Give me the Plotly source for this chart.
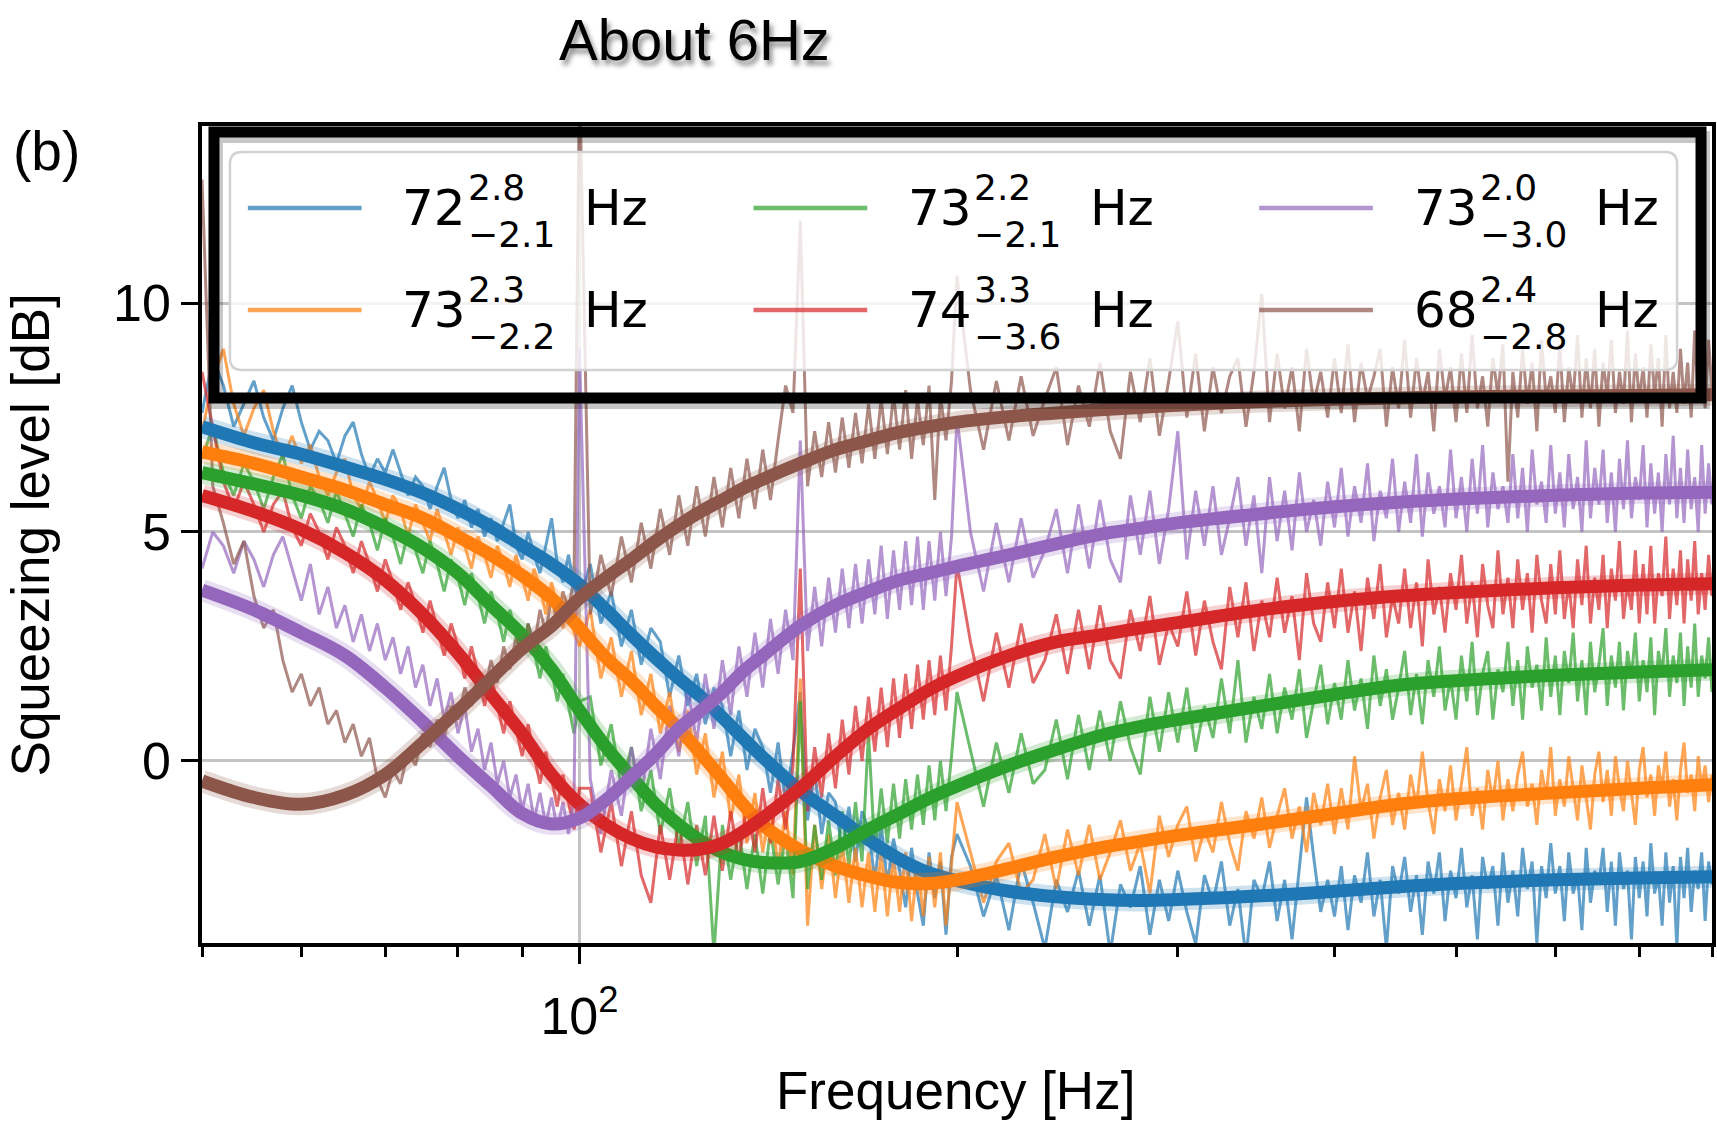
import math
import plotly.graph_objects as go

# ---------------- data ----------------
FREQ_FIT = [50, 55, 60, 65, 70, 75, 80, 85, 90, 95, 100, 105, 110, 115, 120, 125, 130, 135, 140,
            150, 160, 170, 180, 190, 200, 220, 240, 260, 280, 300, 350, 400, 450, 500, 600, 700, 800]

BLUE_FIT = [7.3, 6.95, 6.7, 6.42, 6.15, 5.85, 5.5, 5.12, 4.7, 4.3, 3.85, 3.3, 2.75, 2.25, 1.8, 1.4, 0.95, 0.5, 0.08,
            -0.65, -1.2, -1.72, -2.15, -2.45, -2.62, -2.85, -2.97, -3.03, -3.05, -3.03, -2.95, -2.85, -2.75, -2.68, -2.6, -2.56, -2.53]
ORANGE_FIT = [6.75, 6.5, 6.2, 5.92, 5.6, 5.3, 4.9, 4.5, 4.05, 3.55, 2.9, 2.25, 1.75, 1.2, 0.7, 0.15, -0.4, -0.95, -1.4,
              -1.95, -2.3, -2.52, -2.66, -2.68, -2.6, -2.35, -2.1, -1.9, -1.76, -1.63, -1.38, -1.15, -0.95, -0.83, -0.7, -0.6, -0.52]
GREEN_FIT = [6.3, 6.05, 5.8, 5.5, 5.1, 4.65, 4.1, 3.4, 2.75, 2.0, 1.1, 0.3, -0.35, -0.95, -1.4, -1.75, -2.0, -2.15, -2.22,
             -2.2, -1.9, -1.5, -1.15, -0.82, -0.55, -0.1, 0.25, 0.55, 0.75, 0.9, 1.2, 1.45, 1.65, 1.75, 1.87, 1.94, 1.99]
RED_FIT = [5.8, 5.45, 5.05, 4.55, 3.95, 3.2, 2.35, 1.45, 0.6, -0.3, -0.95, -1.4, -1.7, -1.88, -1.95, -1.93, -1.8, -1.55, -1.25,
           -0.6, 0.1, 0.7, 1.15, 1.55, 1.85, 2.3, 2.6, 2.75, 2.9, 3.02, 3.3, 3.48, 3.6, 3.68, 3.78, 3.84, 3.87]
PURPLE_FIT = [3.73, 3.3, 2.8, 2.3, 1.6, 0.85, 0.1, -0.55, -1.15, -1.38, -1.25, -0.85, -0.35, 0.15, 0.7, 1.1, 1.5, 1.95, 2.3,
              2.95, 3.4, 3.7, 3.95, 4.1, 4.25, 4.5, 4.74, 4.95, 5.08, 5.2, 5.4, 5.55, 5.65, 5.72, 5.8, 5.85, 5.87]
BROWN_FIT = [-0.44, -0.8, -0.95, -0.75, -0.3, 0.4, 1.1, 1.8, 2.45, 2.95, 3.55, 4.0, 4.4, 4.8, 5.15, 5.45, 5.7, 5.95, 6.15,
             6.5, 6.8, 7.0, 7.18, 7.3, 7.4, 7.52, 7.6, 7.67, 7.72, 7.77, 7.85, 7.9, 7.93, 7.95, 7.97, 7.98, 8.0]

FREQ_DATA = [50, 51, 52, 53, 54, 55, 56, 57, 58, 59, 60, 61, 62, 63, 64, 65, 66, 67, 68, 69,
             70, 71, 72, 73, 74, 75, 76, 77, 78, 79, 80, 81, 82, 83, 84, 85, 86, 87, 88, 89,
             90, 91, 92, 93, 94, 95, 96, 97, 98, 99, 100,
             102, 104, 106, 108, 110, 112, 114, 116, 118, 120, 122, 124, 126, 128, 130, 132, 134, 136, 138, 140,
             142, 144, 146, 148, 150, 152, 154, 156, 158, 160, 162, 164, 166, 168, 170, 172, 174, 176, 178, 180,
             182, 184, 186, 188, 190, 192, 194, 196, 198, 200,
             205, 210, 215, 220, 225, 230, 235, 240, 245, 250, 255, 260, 265, 270, 275, 280, 285, 290, 295, 300,
             305, 310, 315, 320, 325, 330, 335, 340, 345, 350, 355, 360, 365, 370, 375, 380, 385, 390, 395, 400,
             405, 410, 415, 420, 425, 430, 435, 440, 445, 450, 455, 460, 465, 470, 475, 480, 485, 490, 495, 500,
             505, 510, 515, 520, 525, 530, 535, 540, 545, 550, 555, 560, 565, 570, 575, 580, 585, 590, 595, 600,
             605, 610, 615, 620, 625, 630, 635, 640, 645, 650, 655, 660, 665, 670, 675, 680, 685, 690, 695, 700,
             705, 710, 715, 720, 725, 730, 735, 740, 745, 750, 755, 760, 765, 770, 775, 780, 785, 790, 795, 800]

BLUE_DATA = [7.6, 8.8, 8.2, 7.3, 7.8, 8.3, 7.5, 7.0, 7.7, 8.2, 7.4, 6.8, 7.2, 7.0, 6.5, 7.1, 7.4, 6.7, 6.2, 6.6,
             6.3, 6.8, 6.3, 5.8, 6.2, 6.0, 5.5, 6.0, 6.4, 5.7, 5.3, 5.7, 5.1, 5.5, 4.9, 5.3, 4.8, 5.2, 5.6, 4.7,
             4.4, 5.0, 4.5, 4.1, 4.7, 5.3, 4.3, 3.9, 4.5, 3.8, 3.5,
             4.3, 3.0, 3.7, 2.5, 3.3, 2.1, 2.9, 2.6, 1.4, 2.3, 1.2, 1.9, 0.8, 1.6, 1.2, 0.1, 1.1, -0.2, 0.7, 0.3,
             -0.7, 0.4, -0.9, 0.2, 1.5, -1.3, -0.2, -1.6, -0.7, -0.9, -2.0, -1.0, -2.2, -1.1, -1.5, -2.6, -1.4, -2.7, -1.7, -2.4,
             -3.2, -1.9, -2.9, -3.6, -2.0, -3.0, -2.2, -3.8, -2.1, -1.6,
             -2.3, -3.4, -2.5, -3.7, -2.2, -3.1, -4.1, -2.6, -3.3, -2.4, -3.6, -2.5, -4.2, -2.7, -3.2, -2.3, -3.8, -2.6, -3.5, -2.4,
             -3.3, -4.0, -2.5, -3.1, -2.2, -3.6, -2.8, -4.3, -2.6, -3.0, -2.2, -3.5, -2.6, -3.9, -2.4, -0.8, -2.1, -3.3, -2.6, -3.4,
             -2.3, -3.7, -2.5, -3.1, -2.0, -3.4, -2.6, -4.1, -2.3, -2.9, -2.1, -3.3, -2.5, -3.8, -2.2, -2.9, -2.0, -3.5, -2.4, -3.0,
             -1.9, -3.2, -2.5, -3.9, -2.1, -2.8, -2.3, -3.6, -2.0, -3.1, -2.4, -3.4, -1.9, -2.8, -2.2, -4.0, -2.3, -3.0, -1.8, -2.9,
             -2.3, -3.5, -2.0, -2.9, -2.5, -3.7, -1.9, -3.1, -2.4, -2.7, -1.9, -3.3, -2.2, -3.6, -2.0, -2.8, -2.4, -3.9, -2.1, -3.0,
             -2.2, -3.4, -1.8, -2.9, -2.5, -3.6, -2.0, -3.1, -2.3, -4.1, -2.1, -3.0, -1.9, -3.3, -2.4, -2.8, -2.0, -3.5, -2.2, -2.7]

ORANGE_DATA = [7.2, 8.3, 9.0, 7.8, 7.1, 7.7, 8.1, 7.2, 6.6, 7.1, 6.5, 6.9, 6.2, 5.8, 6.3, 6.6, 5.8, 5.5, 6.1, 5.7,
               5.2, 5.8, 5.5, 4.9, 5.6, 5.2, 4.8, 5.5, 5.0, 4.5, 5.1, 4.7, 4.2, 4.9, 4.5, 4.0, 4.7, 4.3, 3.8, 4.5,
               4.0, 3.5, 4.2, 3.8, 3.2, 3.9, 3.4, 2.9, 3.5, 2.8, 2.5,
               3.3, 1.8, 2.7, 1.4, 2.4, 1.0, 1.9, 0.6, 1.5, 0.2, 1.1, -0.3, 0.6, -0.8, 0.2, -1.3, -0.3, -1.8, -0.7, -2.0,
               -1.0, -2.3, -1.1, -2.5, 1.8, -3.6, -1.4, -2.8, -1.6, -3.0, -1.8, -3.1, -1.9, -3.2, -2.0, -3.3, -2.0, -3.4, -2.1, -3.3,
               -2.0, -3.5, -2.2, -3.4, -2.1, -3.2, -2.0, -3.6, -2.2, -0.9,
               -2.0, -3.1, -2.2, -1.8, -2.9, -2.6, -1.6, -2.8, -1.5, -2.5, -1.4, -2.6, -2.0, -1.3, -2.4, -1.8, -2.9, -1.2, -2.1, -1.4,
               -1.0, -2.2, -1.5, -2.0, -0.9, -1.8, -2.4, -1.1, -1.7, -0.8, -1.9, -1.2, -0.6, -1.7, -1.0, -2.0, -0.7, -1.4, -0.5, -1.6,
               -0.6, -1.5, 0.1, -1.1, -0.5, -1.7, -0.8, -0.2, -1.4, -0.7, -1.5, -0.3, -1.0, 0.2, -0.9, -1.6, -0.4, -1.1, -0.1, -1.3,
               -0.5, 0.3, -1.2, -0.6, -1.5, -0.2, -0.9, 0.0, -1.3, -0.4, -1.1, -0.3, 0.2, -1.0, -0.5, -1.4, -0.2, -0.8, 0.3, -1.2,
               -0.4, -1.0, 0.1, -0.6, -1.3, -0.1, -0.8, -1.5, -0.3, 0.2, -0.9, -0.2, -1.2, 0.1, -0.6, -1.1, 0.0, -0.7, -1.4, -0.2,
               0.3, -0.8, -0.3, -1.2, -0.1, -0.6, 0.2, -1.0, -0.4, -1.3, -0.2, 0.4, -0.7, -0.3, -1.1, 0.1, -0.6, -0.1, -0.9, -0.3]

GREEN_DATA = [6.6, 7.3, 6.3, 5.8, 6.5, 6.1, 5.5, 6.2, 6.7, 5.8, 5.3, 6.0, 5.7, 5.2, 5.9, 5.4, 4.9, 5.6, 5.2, 4.6,
              5.3, 4.9, 4.3, 5.0, 4.6, 4.1, 4.8, 4.3, 3.7, 4.4, 4.0, 3.4, 4.1, 3.6, 3.0, 3.7, 3.2, 2.6, 3.3, 2.8,
              2.3, 3.0, 2.4, 1.8, 2.5, 2.0, 1.3, 1.9, 1.2, 0.6, 1.3,
              1.4, -0.1, 0.8, -0.6, 0.3, -1.1, -0.2, -1.6, -0.6, -1.9, -0.9, -2.3, -1.2, -4.2, -1.4, -2.6, -1.5, -2.8, -1.6, -2.9,
              -1.5, -2.7, -1.6, -3.0, 1.3, -2.8, -1.4, -2.6, -1.3, -2.5, -1.1, -2.3, -0.9, -2.2, 0.6, -2.0, -0.6, -1.8, -0.5, -1.7,
              -0.4, -1.5, -0.3, -1.4, -0.1, -1.3, 0.0, -1.1, 0.1, 1.5,
              0.2, -1.0, 0.4, -0.7, 0.6, -0.5, -0.2, 0.9, -0.4, 1.0, -0.2, 1.1, 0.0, 1.3, 0.3, -0.3, 1.4, 0.2, 1.5, 0.4,
              1.6, 0.2, 1.2, 0.5, 1.8, 0.6, 2.2, 0.4, 1.4, 0.7, 1.9, 0.6, 1.6, 0.9, 2.0, 0.5, 1.3, 2.1, 0.8, 1.7,
              0.9, 2.2, 1.1, 1.8, 0.7, 2.3, 1.2, 2.0, 0.9, 1.6, 2.4, 1.0, 1.9, 0.8, 2.2, 1.4, 2.5, 1.1, 1.8, 0.9,
              2.3, 1.3, 2.6, 1.0, 1.9, 2.4, 0.9, 2.0, 1.5, 2.6, 1.2, 2.2, 0.9, 2.5, 1.6, 2.1, 1.1, 2.7, 1.4, 2.3,
              1.0, 2.4, 1.7, 2.8, 1.3, 2.2, 1.0, 2.6, 1.5, 2.1, 2.9, 1.2, 2.3, 1.6, 2.6, 1.1, 2.4, 1.8, 2.8, 1.3,
              2.2, 1.5, 2.7, 1.0, 2.4, 1.9, 2.9, 1.4, 2.3, 1.7, 2.8, 1.2, 2.5, 1.6, 3.0, 1.4, 2.3, 1.8, 2.7, 1.5]

RED_DATA = [8.5, 7.3, 6.1, 5.5, 6.1, 5.6, 5.0, 5.6, 5.9, 5.1, 4.7, 5.4, 5.0, 4.4, 5.1, 4.7, 4.1, 4.8, 4.3, 3.7,
            4.4, 3.9, 3.3, 3.9, 3.4, 2.8, 3.5, 2.9, 2.3, 3.0, 2.5, 1.8, 2.5, 1.9, 1.2, 1.9, 1.2, 0.6, 1.3, 0.7,
            0.1, 0.8, 0.1, -0.5, 0.2, -0.4, -1.0, -0.3, -0.9, -1.5, -0.6,
            -0.6, -2.0, -0.9, -2.3, -1.1, -2.5, -3.1, -1.4, -2.6, -1.3, -2.7, -1.4, -2.5, -1.2, -2.4, -1.1, -2.2, -0.9, -2.0, -0.6,
            -1.8, -0.4, -1.5, -0.1, 4.2, -1.1, 0.3, -0.8, 0.6, -0.6, 0.9, -0.3, 1.2, 0.0, 1.4, 0.2, 1.6, 0.3, 1.8, 0.5,
            1.9, 0.7, 2.1, 0.9, 2.2, 1.0, 2.3, 1.1, 2.5, 4.3,
            2.6, 1.3, 2.8, 1.6, 3.0, 1.7, 2.2, 3.2, 1.9, 3.3, 2.0, 3.4, 2.2, 1.8, 3.3, 2.4, 3.6, 2.1, 3.0, 2.5,
            3.7, 2.3, 3.5, 2.6, 2.0, 3.8, 2.7, 3.9, 2.4, 3.5, 2.7, 4.0, 2.8, 3.6, 2.2, 4.1, 3.0, 2.6, 3.9, 2.9,
            4.2, 2.8, 3.7, 2.4, 4.0, 3.1, 4.3, 2.7, 3.6, 3.0, 4.2, 2.9, 3.9, 2.5, 4.4, 3.2, 3.8, 2.8, 4.1, 3.3,
            4.5, 3.0, 3.9, 2.7, 4.3, 3.4, 2.9, 4.6, 3.2, 4.0, 2.9, 4.4, 3.3, 4.1, 2.8, 4.5, 3.5, 3.0, 4.3, 3.2,
            4.6, 3.1, 3.9, 2.9, 4.4, 3.4, 4.7, 3.0, 4.0, 3.3, 4.5, 2.9, 4.2, 3.5, 4.8, 3.1, 3.9, 3.3, 4.6, 3.0,
            4.3, 3.2, 4.7, 3.0, 4.1, 3.6, 4.9, 3.1, 4.2, 3.4, 4.6, 3.0, 4.4, 3.5, 4.8, 3.2, 4.1, 3.3, 4.5, 3.6]

PURPLE_DATA = [4.2, 5.0, 4.7, 4.1, 4.8, 4.4, 3.8, 4.5, 4.9, 4.2, 3.5, 4.3, 3.2, 3.8, 2.9, 3.4, 2.6, 3.2, 2.4, 3.0,
               2.2, 2.7, 1.9, 2.5, 1.6, 2.1, 1.2, 1.8, 0.9, 1.5, 0.6, 1.2, 0.2, 0.7, -0.2, 0.4, -0.5, 0.0, -0.8, -0.3,
               -1.1, -0.5, -1.3, -0.7, -1.4, -0.8, -1.5, -0.9, -1.6, -0.8, 9.0,
               -0.4, -1.6, -0.2, -1.2, 0.3, -0.8, 0.7, -0.4, 1.2, 0.1, 1.6, 0.4, 1.9, 0.7, 2.2, 1.0, 2.5, 1.4, 2.8, 1.6,
               3.1, 1.9, 3.3, 2.2, 7.0, 2.4, 3.8, 2.5, 4.0, 2.8, 4.2, 2.9, 4.3, 3.0, 4.4, 3.2, 4.7, 3.1, 4.6, 3.3,
               4.8, 3.4, 4.9, 3.3, 4.8, 3.5, 5.0, 3.6, 4.9, 7.5,
               5.0, 3.7, 5.2, 3.9, 5.3, 4.0, 4.6, 5.5, 4.1, 5.6, 4.2, 5.7, 4.4, 3.9, 5.8, 4.5, 5.9, 4.3, 5.5, 7.2,
               4.4, 5.9, 4.7, 6.0, 4.5, 5.3, 6.2, 4.7, 5.8, 4.1, 6.2, 4.8, 5.9, 4.6, 6.3, 5.0, 5.7, 4.7, 6.1, 5.1,
               6.4, 4.9, 6.0, 5.2, 6.5, 4.8, 5.9, 5.3, 6.6, 5.0, 6.1, 5.2, 6.7, 4.9, 6.3, 5.4, 6.0, 5.1, 6.8, 5.3,
               6.2, 5.0, 6.6, 5.4, 6.9, 5.1, 6.3, 5.5, 6.0, 5.2, 6.7, 5.3, 6.4, 5.0, 6.8, 5.6, 6.1, 5.2, 6.9, 5.4,
               6.3, 5.1, 6.7, 5.5, 6.2, 5.0, 7.0, 5.3, 6.4, 5.6, 6.8, 5.2, 6.3, 5.0, 6.6, 5.5, 7.0, 5.3, 6.2, 5.7,
               6.9, 5.1, 6.5, 5.4, 6.3, 5.0, 6.7, 5.6, 7.1, 5.3, 6.4, 5.2, 6.8, 5.5, 6.2, 5.0, 6.9, 5.4, 6.5, 5.6]

BROWN_DATA = [12.7, 6.0, 5.2, 4.3, 4.8, 3.6, 2.9, 3.3, 2.2, 1.5, 1.9, 1.2, 1.6, 0.8, 1.1, 0.4, 0.8, 0.1, 0.5, -0.4,
              -0.8, -0.2, -0.5, 0.2, -0.1, 0.6, 0.3, 0.9, 0.5, 1.2, 0.9, 1.6, 1.2, 1.9, 1.5, 2.2, 1.7, 2.5, 2.0, 2.7,
              2.3, 3.0, 2.5, 3.3, 2.8, 3.6, 3.0, 3.7, 3.3, 4.0, 15.0,
              3.2, 4.5, 3.6, 4.9, 3.9, 5.2, 4.2, 5.5, 4.5, 5.8, 4.7, 6.0, 4.9, 6.2, 5.1, 6.4, 5.3, 6.6, 5.5, 6.8,
              5.7, 7.0, 8.2, 7.6, 11.8, 6.0, 7.2, 6.2, 7.4, 6.3, 7.5, 6.4, 7.6, 6.5, 7.8, 6.6, 7.9, 6.7, 8.0, 6.8,
              8.1, 6.6, 7.9, 6.9, 8.2, 5.7, 8.0, 7.0, 8.3, 10.6,
              8.1, 6.8, 8.3, 7.0, 8.4, 7.1, 7.9, 8.6, 6.9, 8.2, 7.3, 8.7, 7.2, 6.6, 8.5, 7.4, 8.8, 7.1, 8.3, 9.6,
              7.5, 8.9, 7.2, 8.6, 7.6, 8.4, 8.8, 7.3, 8.5, 10.2, 7.4, 8.9, 7.7, 8.6, 7.2, 9.0, 7.8, 8.5, 7.5, 8.8,
              7.6, 9.1, 7.4, 8.7, 7.9, 8.4, 9.0, 7.3, 8.6, 7.7, 9.2, 7.5, 8.8, 7.8, 8.5, 7.2, 9.0, 7.9, 8.6, 7.4,
              8.9, 7.6, 9.3, 7.7, 8.4, 7.3, 8.8, 8.0, 9.1, 6.1, 8.5, 7.5, 9.0, 7.8, 8.7, 7.2, 9.2, 7.9, 8.4, 7.6,
              9.1, 7.4, 8.6, 7.9, 9.3, 7.5, 8.8, 7.7, 9.0, 7.3, 8.7, 8.0, 9.2, 7.6, 8.5, 7.8, 9.4, 7.4, 8.9, 7.9,
              8.6, 7.5, 9.1, 8.0, 8.8, 7.3, 9.3, 7.7, 8.5, 7.6, 9.0, 7.8, 8.7, 7.5, 9.4, 7.9, 8.6, 7.7, 9.2, 8.1]

SERIES_COLORS = ["#1f77b4", "#ff7f0e", "#2ca02c", "#d62728", "#9467bd", "#8c564b"]
DATA_SERIES = [BLUE_DATA, ORANGE_DATA, GREEN_DATA, RED_DATA, PURPLE_DATA, BROWN_DATA]
FIT_SERIES = [BLUE_FIT, ORANGE_FIT, GREEN_FIT, RED_FIT, PURPLE_FIT, BROWN_FIT]

LEG_MAIN = ["72", "73", "73", "74", "73", "68"]
LEG_UP = ["2.8", "2.3", "2.2", "3.3", "2.0", "2.4"]
LEG_DN = ["\u22122.1", "\u22122.2", "\u22122.1", "\u22123.6", "\u22123.0", "\u22122.8"]

X_MAJOR = [100]
X_MAJOR_TEXT = ["10<sup>2</sup>"]
X_MINOR = [50, 60, 70, 80, 90, 200, 300, 400, 500, 600, 700, 800]
Y_TICKS = [0, 5, 10]
Y_RANGE = [-3.98, 13.87]

# ---------------- layout helpers ----------------
W, H = 1717, 1125
ML, MR, MT, MB = 202, 1, 126, 182
PW = W - ML - MR
PH = H - MT - MB


def px(x):
    return (x - ML) / PW


def py(y):
    return (H - MB - y) / PH


def rgba(hexc, a):
    h = hexc.lstrip("#")
    return "rgba(%d,%d,%d,%.3f)" % (int(h[0:2], 16), int(h[2:4], 16), int(h[4:6], 16), a)


fig = go.Figure()

for vals, col in zip(DATA_SERIES, SERIES_COLORS):
    fig.add_trace(go.Scatter(x=FREQ_DATA, y=vals, mode="lines",
                             line=dict(color=rgba(col, 0.7), width=3.0),
                             hoverinfo="skip", showlegend=False))

for vals, col in zip(FIT_SERIES, SERIES_COLORS):
    fig.add_trace(go.Scatter(x=FREQ_FIT, y=vals, mode="lines",
                             line=dict(color=rgba(col, 0.22), width=22, shape="spline", smoothing=1.0),
                             hoverinfo="skip", showlegend=False))
    fig.add_trace(go.Scatter(x=FREQ_FIT, y=vals, mode="lines",
                             line=dict(color=col, width=13, shape="spline", smoothing=1.0),
                             hoverinfo="skip", showlegend=False))

AX_FONT = dict(family="Liberation Sans, Arial, sans-serif", size=52, color="black")

fig.update_layout(
    width=W, height=H,
    margin=dict(l=ML, r=MR, t=MT, b=MB, pad=0),
    paper_bgcolor="white", plot_bgcolor="white",
    showlegend=False, hovermode=False,
    xaxis=dict(type="log", range=[math.log10(50), math.log10(800)],
               tickmode="array", tickvals=X_MAJOR, ticktext=X_MAJOR_TEXT,
               ticks="outside", ticklen=17, tickwidth=2.5, tickcolor="black",
               ticklabelstandoff=8,
               showline=True, linecolor="black", linewidth=3.5, mirror=True,
               showgrid=True, gridcolor="#c4c4c4", gridwidth=2.5, zeroline=False,
               tickfont=AX_FONT,
               minor=dict(tickmode="array", tickvals=X_MINOR, ticks="outside", ticklen=10,
                          tickwidth=2.5, tickcolor="black", showgrid=False)),
    yaxis=dict(range=Y_RANGE, tickmode="array", tickvals=Y_TICKS,
               ticktext=[str(v) for v in Y_TICKS],
               ticks="outside", ticklen=17, tickwidth=2.5, tickcolor="black",
               showline=True, linecolor="black", linewidth=3.5, mirror=True,
               showgrid=True, gridcolor="#c4c4c4", gridwidth=2.5, zeroline=False,
               tickfont=AX_FONT),
)

shapes = []
# legend frame (rounded, semi-transparent)
lx0, lx1, ly0, ly1 = 230, 1681, 152, 370
r = 12
rx, ry = r / PW, r / PH
X0, X1, Y0, Y1 = px(lx0), px(lx1), py(ly1), py(ly0)
path = (f"M {X0+rx},{Y0} L {X1-rx},{Y0} Q {X1},{Y0} {X1},{Y0+ry} L {X1},{Y1-ry} "
        f"Q {X1},{Y1} {X1-rx},{Y1} L {X0+rx},{Y1} Q {X0},{Y1} {X0},{Y1-ry} L {X0},{Y0+ry} "
        f"Q {X0},{Y0} {X0+rx},{Y0} Z")
shapes.append(dict(type="path", path=path, xref="paper", yref="paper", layer="above",
                   fillcolor="rgba(255,255,255,0.8)", line=dict(color="#d2d2d2", width=2.5)))

annotations = []
LEG_FONT = "DejaVu Sans, Verdana, sans-serif"
for i, col in enumerate(SERIES_COLORS):
    c, rrow = i // 2, i % 2
    dx, dy = 507 * c, 102 * rrow
    shapes.append(dict(type="line", xref="paper", yref="paper", layer="above",
                       x0=px(248 + dx), x1=px(362 + dx), y0=py(208 + dy), y1=py(208 + dy),
                       line=dict(color=rgba(col, 0.7), width=4.5)))
    annotations.append(dict(text=LEG_MAIN[i], x=px(402 + dx), y=py(208 + dy), xref="paper", yref="paper",
                            xanchor="left", yanchor="middle", showarrow=False, borderpad=0,
                            font=dict(family=LEG_FONT, size=50, color="black")))
    # stacked upper / lower uncertainty
    annotations.append(dict(text=LEG_UP[i] + "<br>" + LEG_DN[i], x=px(468 + dx), y=py(211 + dy),
                            xref="paper", yref="paper", align="left",
                            xanchor="left", yanchor="middle", showarrow=False, borderpad=0,
                            font=dict(family=LEG_FONT, size=36, color="black")))
    annotations.append(dict(text="Hz", x=px(584 + dx), y=py(208 + dy), xref="paper", yref="paper",
                            xanchor="left", yanchor="middle", showarrow=False, borderpad=0,
                            font=dict(family=LEG_FONT, size=50, color="black")))

# highlight box with a soft shadow
bx0, bx1, by0, by1 = 214, 1705, 132, 398
shapes.append(dict(type="rect", xref="paper", yref="paper", layer="above",
                   x0=px(bx0 + 3), x1=px(bx1 + 3), y0=py(by1 + 5), y1=py(by0 + 5),
                   line=dict(color="rgba(0,0,0,0.22)", width=12), fillcolor="rgba(0,0,0,0)"))
shapes.append(dict(type="rect", xref="paper", yref="paper", layer="above",
                   x0=px(bx0), x1=px(bx1), y0=py(by1), y1=py(by0),
                   line=dict(color="black", width=11), fillcolor="rgba(0,0,0,0)"))

TXT_FONT = "Liberation Sans, Arial, sans-serif"
annotations.append(dict(text="About 6Hz", x=px(696), y=py(40), xref="paper", yref="paper",
                        xanchor="center", yanchor="middle", showarrow=False,
                        font=dict(family=TXT_FONT, size=58, color="black",
                                  shadow="3px 5px 5px rgba(0,0,0,0.45)")))
annotations.append(dict(text="(b)", x=px(46), y=py(151), xref="paper", yref="paper",
                        xanchor="center", yanchor="middle", showarrow=False,
                        font=dict(family=TXT_FONT, size=55, color="black")))
annotations.append(dict(text="Frequency [Hz]", x=px(957), y=py(1090), xref="paper", yref="paper",
                        xanchor="center", yanchor="middle", showarrow=False,
                        font=dict(family=TXT_FONT, size=53, color="black")))
annotations.append(dict(text="Squeezing level [dB]", x=px(30), y=py(535), xref="paper", yref="paper",
                        xanchor="center", yanchor="middle", showarrow=False, textangle=-90,
                        font=dict(family=TXT_FONT, size=53, color="black")))

fig.update_layout(shapes=shapes, annotations=annotations)

fig.write_html("out.html")
